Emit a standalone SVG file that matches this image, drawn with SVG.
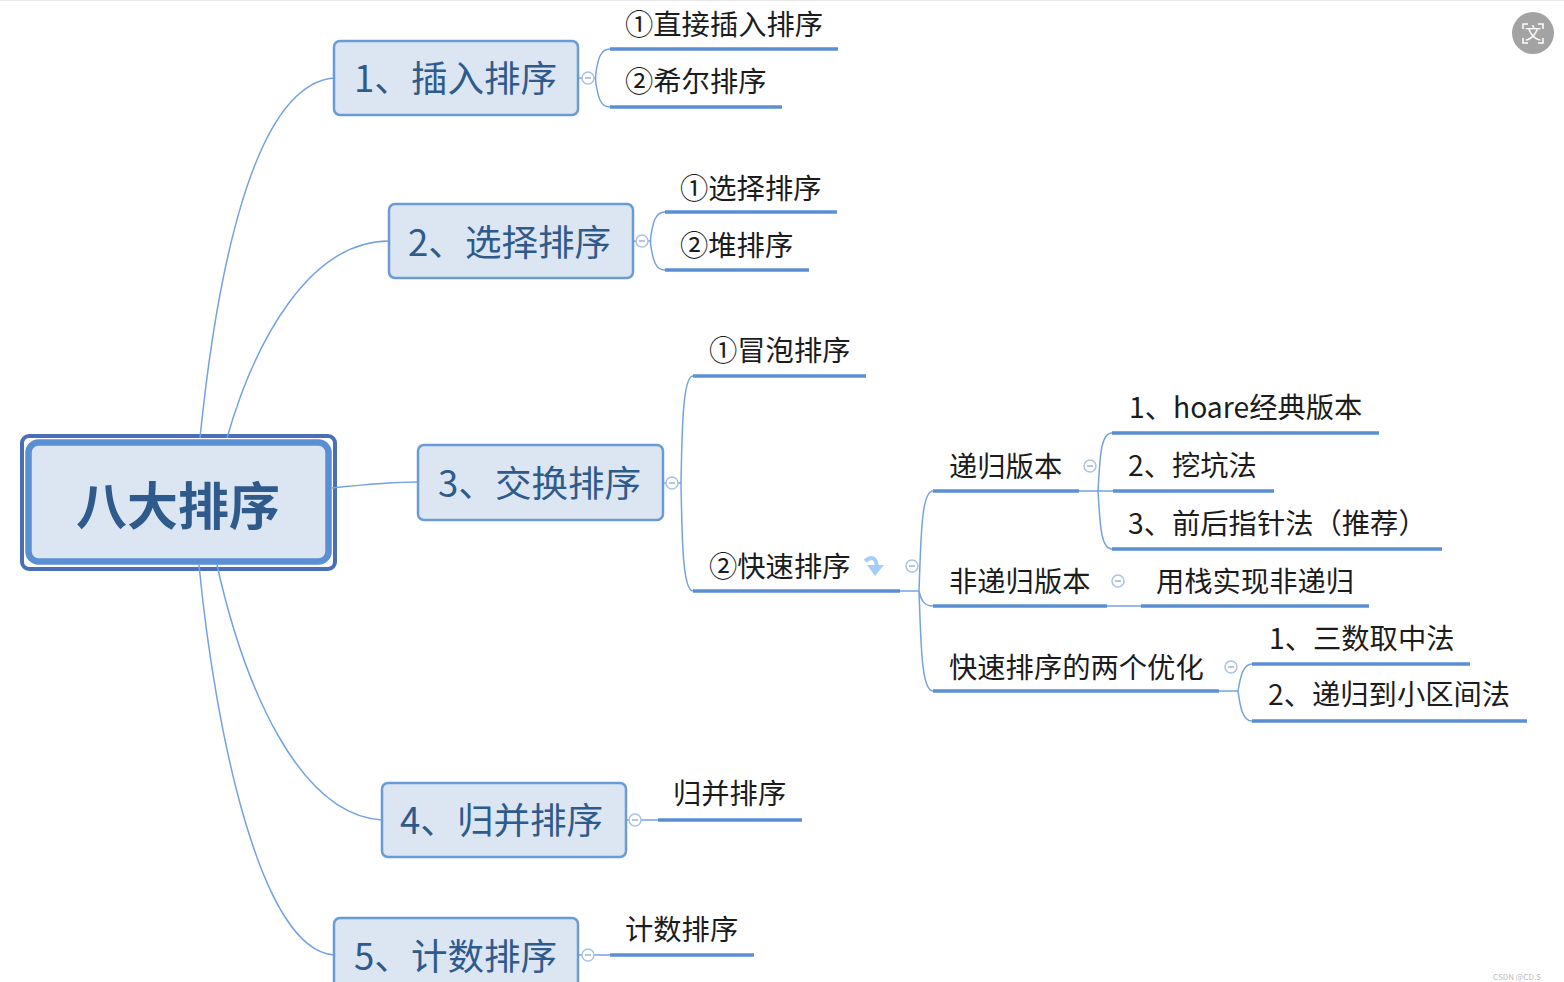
<svg xmlns="http://www.w3.org/2000/svg" width="1564" height="982" viewBox="0 0 1564 982">
<style>
text{font-family:"Noto Sans CJK SC","Noto Sans",sans-serif}
.b rect{fill:#dce6f2;stroke:#6a9bd8;stroke-width:2.5}
.b text{font-size:36.6px;fill:#2f5a8c}
.l{font-size:28.3px;fill:#1c1c1c}
.u{stroke:#5b8fd3;stroke-width:3.5;fill:none}
.c{stroke:#74a2e2;stroke-width:1.5;fill:none}
.m circle{fill:#fff;stroke:#a9c3e6;stroke-width:1.5}
.m path{stroke:#9fb4cf;stroke-width:1.5;fill:none}
</style>
<defs>
<g id="minus" class="m"><circle r="6"/><path d="M-3,0H3"/></g>
</defs>
<rect width="1564" height="982" fill="#fff"/>
<rect width="1564" height="1" fill="#e8e8e8"/>
<g id="root">
<rect x="22" y="436" width="313" height="133" rx="7" fill="none" stroke="#4a6fb8" stroke-width="4"/>
<rect x="28.5" y="442.5" width="300" height="119" rx="10" fill="#dce6f2" stroke="#5b8fd3" stroke-width="6.5"/>
<text x="76" y="525" font-size="51" font-weight="700" fill="#2f5a8c">八大排序</text>
</g>
<g id="connectors">
<path class="c" d="M200,438C215,290 250,85 334,78"/>
<path class="c" d="M227,438C255,340 310,241 389,241"/>
<path class="c" d="M332,488C360,485 390,482 418,482"/>
<path class="c" d="M199,565C215,730 260,950 334,955"/>
<path class="c" d="M217,565C245,690 300,815 382,820"/>
<path class="c" d="M610,49C600,49 598,60 596,72Q595,78 596,84C598,96 600,107 610,107"/>
<path class="c" d="M665,212C655,212 653,223 651,235Q650,241 651,247C653,259 655,270 665,270"/>
<path class="c" d="M693,376C682,376 682,440 681,483C682,530 682,591 693,591"/>
<path class="c" d="M900,591H919M933,491C921,491 921,540 919,591C921,600 924,606 933,606M919,591C921,640 921,691 933,691"/>
<path class="c" d="M1079,491H1098M1112,433C1100,433 1100,460 1098,491C1100,520 1100,549 1112,549M1098,491H1113"/>
<path class="c" d="M1107,606H1141"/>
<path class="c" d="M1219,691H1238M1252,664C1242,664 1240,680 1238,691C1240,705 1242,721 1252,721"/>
<path class="c" d="M626,820H658"/>
<path class="c" d="M578,955H610"/>
<path class="c" d="M578,78H596"/>
<path class="c" d="M633,241H651"/>
<path class="c" d="M663,483H681"/>
</g>
<g id="n1" class="b"><rect x="334" y="41" width="244" height="74" rx="6"/><text x="354" y="92">1、插入排序</text></g>
<g id="n2" class="b"><rect x="389" y="204" width="244" height="74" rx="6"/><text x="408" y="256">2、选择排序</text></g>
<g id="n3" class="b"><rect x="418" y="445" width="245" height="75" rx="6"/><text x="438" y="497">3、交换排序</text></g>
<g id="n4" class="b"><rect x="382" y="783" width="244" height="74" rx="6"/><text x="400" y="834">4、归并排序</text></g>
<g id="n5" class="b"><rect x="334" y="918" width="244" height="80" rx="6"/><text x="354" y="970">5、计数排序</text></g>
<g id="l11"><text class="l" x="625" y="35">①直接插入排序</text><path class="u" d="M610,49H838"/></g>
<g id="l12"><text class="l" x="625" y="92">②希尔排序</text><path class="u" d="M610,107H782"/></g>
<g id="l21"><text class="l" x="680" y="199">①选择排序</text><path class="u" d="M665,212H837"/></g>
<g id="l22"><text class="l" x="680" y="256">②堆排序</text><path class="u" d="M665,270H809"/></g>
<g id="l31"><text class="l" x="709" y="361">①冒泡排序</text><path class="u" d="M693,376H866"/></g>
<g id="l32"><text class="l" x="709" y="577">②快速排序</text><path class="u" d="M693,591H900"/>
<path d="M865,561Q875,553 877,566" fill="none" stroke="#a5cdf5" stroke-width="4"/><path d="M867,565H884L875,576Z" fill="#a5cdf5"/></g>
<g id="l4"><text class="l" x="949" y="477">递归版本</text><path class="u" d="M933,491H1079"/></g>
<g id="l41"><text class="l" x="1129" y="418">1、hoare经典版本</text><path class="u" d="M1112,433H1379"/></g>
<g id="l42"><text class="l" x="1128" y="476">2、挖坑法</text><path class="u" d="M1113,491H1274"/></g>
<g id="l43"><text class="l" x="1128" y="534">3、前后指针法（推荐）</text><path class="u" d="M1112,549H1442"/></g>
<g id="l5"><text class="l" x="949" y="592">非递归版本</text><path class="u" d="M933,606H1107"/></g>
<g id="l51"><text class="l" x="1156" y="592">用栈实现非递归</text><path class="u" d="M1141,606H1369"/></g>
<g id="l6"><text class="l" x="949" y="678">快速排序的两个优化</text><path class="u" d="M933,691H1219"/></g>
<g id="l61"><text class="l" x="1269" y="649">1、三数取中法</text><path class="u" d="M1252,664H1470"/></g>
<g id="l62"><text class="l" x="1268" y="705">2、递归到小区间法</text><path class="u" d="M1252,721H1527"/></g>
<g id="l7"><text class="l" x="673" y="804">归并排序</text><path class="u" d="M658,820H802"/></g>
<g id="l8"><text class="l" x="625" y="940">计数排序</text><path class="u" d="M610,955H754"/></g>
<g id="toggles">
<use href="#minus" x="588" y="78"/><use href="#minus" x="642" y="241"/><use href="#minus" x="672" y="483"/>
<use href="#minus" x="912" y="566"/><use href="#minus" x="1090" y="466"/><use href="#minus" x="1118" y="581"/>
<use href="#minus" x="1231" y="667"/><use href="#minus" x="635" y="820"/><use href="#minus" x="588" y="955"/>
</g>
<g id="translate">
<circle cx="1533" cy="33" r="21" fill="#a3a3a3"/>
<path d="M1523,29V24H1528M1538,24H1543V29M1543,38V43H1538M1528,43H1523V38" fill="none" stroke="#fff" stroke-width="1.5"/>
<text x="1533" y="39" font-size="16" fill="#fff" text-anchor="middle">文</text>
</g>
<text x="1493" y="980" font-size="8" fill="#bbb">CSDN @CD.S</text>
</svg>
